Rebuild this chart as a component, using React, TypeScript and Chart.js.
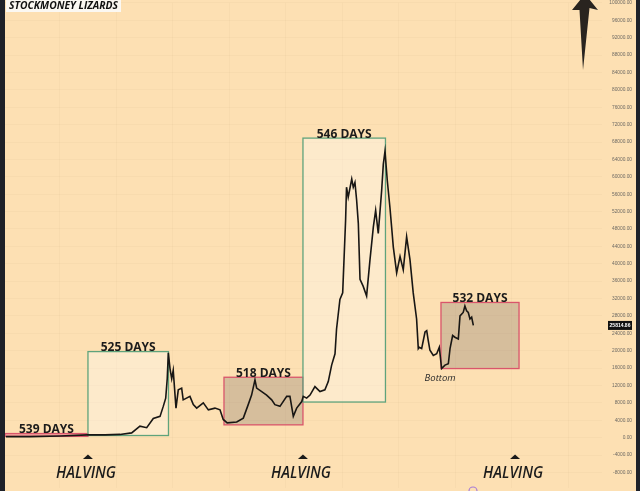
import React, { useEffect, useRef } from 'react';
import { Chart, registerables } from 'chart.js';
Chart.register(...registerables);

// x = days since the 2016 halving, y = BTC price (USD)
const days = [-535, -378, -183, 0, 111, 209, 285, 339, 383, 426, 470, 491, 507, 517, 524, 535, 546, 556, 574, 589, 611, 621, 665, 687, 709, 752, 785, 828, 861, 882, 908, 970, 1013, 1045, 1067, 1089, 1100, 1133, 1165, 1198, 1219, 1252, 1296, 1317, 1339, 1361, 1394, 1404, 1426, 1448, 1480, 1513, 1545, 1567, 1589, 1611, 1621, 1643, 1661, 1680, 1686, 1697, 1720, 1730, 1741, 1752, 1763, 1774, 1795, 1817, 1839, 1861, 1876, 1893, 1915, 1926, 1937, 1952, 1969, 1980, 1991, 2013, 2035, 2056, 2078, 2100, 2121, 2143, 2154, 2160, 2176, 2198, 2209, 2219, 2230, 2252, 2274, 2291, 2306, 2328, 2350, 2361, 2378, 2393, 2415, 2426, 2447, 2458, 2469, 2480, 2491, 2502, 2513];
const prices = [250, 250, 400, 650, 650, 750, 1100, 2650, 2300, 4400, 4900, 7200, 9100, 13600, 19500, 15900, 13600, 15500, 6800, 11000, 11400, 8700, 9500, 7600, 6800, 8000, 6400, 6800, 6400, 4200, 3400, 3600, 4500, 7600, 9800, 13300, 11400, 10600, 9800, 8700, 7600, 7200, 9500, 9500, 4900, 6800, 8300, 9500, 9100, 9800, 11750, 10600, 11000, 12900, 16700, 19300, 25000, 31800, 33300, 50000, 57600, 55300, 59500, 57600, 58700, 54600, 49300, 36400, 34800, 32600, 40900, 48500, 52300, 47000, 56800, 62900, 65900, 59100, 53000, 48500, 43900, 37900, 41700, 38600, 46200, 40900, 33300, 27300, 20500, 20800, 20500, 24300, 24600, 22300, 20100, 18900, 19300, 20800, 15900, 16700, 17000, 20500, 23500, 23100, 22700, 28000, 28800, 30300, 29200, 28800, 27300, 27700, 25814.86];

const boxLabels = ['539 DAYS', '525 DAYS', '518 DAYS', '546 DAYS', '532 DAYS'];
const boxStartDays = [-541, 0, 887, 1402, 2302];
const boxEndDays = [0, 525, 1402, 1940, 2811];
const boxLows = [300, 500, 2950, 8200, 15900];
const boxHighs = [950, 19800, 13900, 68900, 31100];
const boxKinds = ['pink', 'green', 'red', 'green', 'red'];

const halvingDays = [0, 1402, 2785];
const halvingLabel = 'HALVING';
const bottomLabel = 'Bottom';
const bottomDay = 2296;
const bottomPrice = 15900;
const titleText = 'STOCKMONEY LIZARDS';
const gridDays = [-183, 189, 554, 922, 1290, 1658, 2027, 2395, 2763, 3131];
const yTicks = [-8000, -4000, 0, 4000, 8000, 12000, 16000, 20000, 24000, 28000, 32000, 36000, 40000, 44000, 48000, 52000, 56000, 60000, 64000, 68000, 72000, 76000, 80000, 84000, 88000, 92000, 96000, 100000];

const X_MIN = -541;
const X_MAX = 3352;
const Y_MIN = -11600;
const Y_MAX = 100000;

const BG = '#fde0b3';

export default function App() {
  const ref = useRef<HTMLCanvasElement>(null);
  useEffect(() => {
    document.body.style.margin = '0';
    const canvas = ref.current!;
    const points = days.map((d, i) => ({ x: d, y: prices[i] }));

    const bgPlugin = {
      id: 'bg',
      beforeDraw(chart: any) {
        const c = chart.ctx;
        c.save();
        c.fillStyle = BG;
        c.fillRect(0, 0, chart.width, chart.height);
        c.restore();
      },
    };

    const boxPlugin = {
      id: 'boxes',
      beforeDatasetsDraw(chart: any) {
        const c = chart.ctx;
        const xs = chart.scales.x;
        const ys = chart.scales.y;
        c.save();
        boxLabels.forEach((lab, i) => {
          const x1 = xs.getPixelForValue(boxStartDays[i]);
          const x2 = xs.getPixelForValue(boxEndDays[i]);
          const y1 = ys.getPixelForValue(boxHighs[i]);
          const y2 = ys.getPixelForValue(boxLows[i]);
          const kind = boxKinds[i];
          if (kind === 'green') {
            c.fillStyle = 'rgba(255,255,255,0.32)';
            c.strokeStyle = '#5fa37c';
          } else if (kind === 'red') {
            c.fillStyle = 'rgba(110,100,95,0.27)';
            c.strokeStyle = '#d9556b';
          } else {
            c.fillStyle = 'rgba(240,120,140,0.55)';
            c.strokeStyle = '#d9556b';
          }
          c.lineWidth = 1.3;
          c.fillRect(x1, y1, x2 - x1, y2 - y1);
          c.strokeRect(x1, y1, x2 - x1, y2 - y1);
          c.fillStyle = '#1b1b1b';
          c.font = 'bold 12px "Open Sans"';
          c.textAlign = 'center';
          c.textBaseline = 'alphabetic';
          c.fillText(lab, (x1 + x2) / 2, y1 - 0.5);
        });
        c.restore();
      },
    };

    const overlayPlugin = {
      id: 'overlay',
      afterDraw(chart: any) {
        const c = chart.ctx;
        const xs = chart.scales.x;
        const ys = chart.scales.y;
        c.save();
        // halving markers
        halvingDays.forEach((d) => {
          const x = xs.getPixelForValue(d);
          c.fillStyle = '#1a1a1a';
          c.beginPath();
          c.moveTo(x - 5, 459);
          c.lineTo(x + 5, 459);
          c.lineTo(x, 454.5);
          c.closePath();
          c.fill();
          c.font = 'italic 600 16px "Open Sans"';
          const w = c.measureText(halvingLabel).width;
          const sc = 60 / w;
          c.save();
          c.translate(x - 2, 478);
          c.scale(sc, 1);
          c.textAlign = 'center';
          c.textBaseline = 'alphabetic';
          c.fillStyle = '#1c1c1c';
          c.fillText(halvingLabel, 0, 0);
          c.restore();
        });
        // bottom label
        c.fillStyle = '#2a2a2a';
        c.font = 'italic 9.5px "Open Sans"';
        c.textAlign = 'center';
        c.textBaseline = 'top';
        c.fillText(bottomLabel, xs.getPixelForValue(bottomDay), ys.getPixelForValue(bottomPrice) + 5);
        // price tag
        const lp = prices[prices.length - 1];
        const py = ys.getPixelForValue(lp);
        c.fillStyle = '#111';
        c.fillRect(608, py - 4.5, 24, 9);
        c.fillStyle = '#fff';
        c.font = 'bold 5px "Liberation Sans"';
        c.textAlign = 'center';
        c.textBaseline = 'middle';
        c.fillText(lp.toFixed(2), 620, py);
        // title
        c.fillStyle = '#fbf8f2';
        c.fillRect(6, 0, 115, 12);
        c.fillStyle = '#111';
        c.font = 'italic bold 11px "Open Sans"';
        const tw = c.measureText(titleText).width;
        c.save();
        c.translate(9, 9);
        c.scale(109 / tw, 1);
        c.textAlign = 'left';
        c.textBaseline = 'alphabetic';
        c.fillText(titleText, 0, 0);
        c.restore();
        // arrow
        c.fillStyle = '#29241f';
        c.beginPath();
        c.moveTo(585, -6);
        c.lineTo(598, 10);
        c.lineTo(589.5, 8);
        c.lineTo(583, 70);
        c.lineTo(579.5, 10);
        c.lineTo(572, 10);
        c.closePath();
        c.fill();
        // purple marker
        c.strokeStyle = '#a77bd6';
        c.lineWidth = 1.2;
        c.beginPath();
        c.arc(473, 491, 4, 0, Math.PI * 2);
        c.stroke();
        // dark edge strips
        c.fillStyle = '#1e2129';
        c.fillRect(0, 0, 5, chart.height);
        c.fillRect(636, 0, 4, chart.height);
        c.restore();
      },
    };

    const chart = new Chart(canvas, {
      type: 'line',
      data: {
        datasets: [
          {
            data: points,
            borderColor: '#181614',
            borderWidth: 1.6,
            pointRadius: 0,
            tension: 0,
            fill: false,
          },
        ],
      },
      options: {
        animation: false,
        responsive: false,
        events: [],
        layout: { padding: { left: 5, right: 8, top: 0, bottom: 0 } },
        plugins: { legend: { display: false }, tooltip: { enabled: false } },
        scales: {
          x: {
            type: 'linear',
            min: X_MIN,
            max: X_MAX,
            afterBuildTicks: (scale: any) => {
              scale.ticks = gridDays.map((v) => ({ value: v }));
            },
            ticks: { display: false },
            grid: { color: 'rgba(120,90,50,0.035)', drawTicks: false },
            border: { display: false },
          },
          y: {
            position: 'right',
            min: Y_MIN,
            max: Y_MAX,
            afterBuildTicks: (scale: any) => {
              scale.ticks = yTicks.map((v) => ({ value: v }));
            },
            afterFit: (scale: any) => {
              scale.width = 30;
            },
            ticks: {
              autoSkip: false,
              crossAlign: 'far',
              padding: 0,
              color: '#6e6a64',
              font: { family: '"Liberation Sans"', size: 4.8 },
              callback: (v: any) => Number(v).toFixed(2),
            },
            grid: { color: 'rgba(120,90,50,0.035)', drawTicks: false },
            border: { display: false },
          },
        },
      },
      plugins: [bgPlugin, boxPlugin, overlayPlugin],
    } as any);
    return () => chart.destroy();
  }, []);
  return <canvas ref={ref} width={640} height={491} style={{ display: 'block', width: 640, height: 491 }} />;
}
